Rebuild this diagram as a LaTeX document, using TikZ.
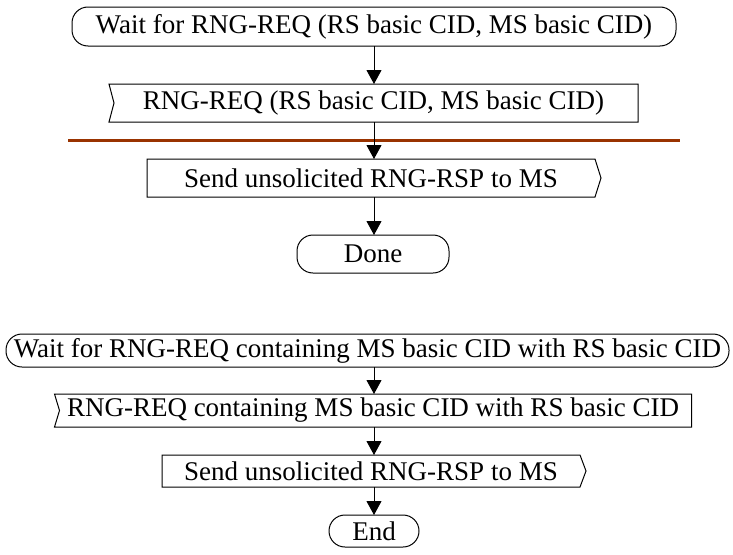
\documentclass[tikz,border=0pt]{standalone}
\usepackage{fontspec}
\setmainfont{Liberation Serif}
\usetikzlibrary{arrows.meta,calc}
\definecolor{sepbrown}{RGB}{153,51,0}
\tikzset{
  base/.style={inner sep=0pt, outer sep=0pt, font=\fontsize{27}{30}\selectfont},
  baseb/.style={inner sep=0pt, outer sep=0pt, font=\fontsize{27}{30}\selectfont},
  outline/.style={draw=black, line width=1pt},
  term/.style={outline, rounded corners=16pt},
  arr/.style={draw=black, line width=0.9pt, -{Triangle[length=14pt,width=15pt]}},
  sep/.style={draw=sepbrown, line width=3pt}
}
\begin{document}
\begin{tikzpicture}[x=1pt,y=-1pt]
\useasboundingbox (0,0) rectangle (733,554);
% ---------- top flow ----------
\node[base, term, minimum width=604pt, minimum height=39pt] (w1) at (374,26.5)
  {Wait for RNG-REQ (RS basic CID, MS basic CID)};
\node[base, minimum width=529pt, minimum height=38pt] (r1) at (373.5,103)
  {RNG-REQ (RS basic CID, MS basic CID)};
\draw[outline] (r1.north west) -- (r1.north east) -- (r1.south east) -- (r1.south west)
  -- ($(r1.west)+(5,0)$) -- cycle;
\node[base, minimum width=448pt, minimum height=38pt] (s1) at (371,178)
  {Send unsolicited RNG-RSP to MS};
\draw[outline] (s1.north west) -- (s1.north east) -- ($(s1.east)+(6,0)$) -- (s1.south east)
  -- (s1.south west) -- cycle;
\node[base, term, minimum width=152pt, minimum height=38pt] (d1) at (373,254) {Done};
\draw[sep] (68,140) -- (680,140);
\draw[arr] (w1.south) -- (w1.south |- r1.north);
\draw[arr] (w1.south |- r1.south) -- (w1.south |- s1.north);
\draw[arr] (w1.south |- s1.south) -- (w1.south |- d1.north);
% ---------- bottom flow ----------
\node[baseb, term, minimum width=723pt, minimum height=33pt] (w2) at (367.5,350.5)
  {Wait for RNG-REQ containing MS basic CID with RS basic CID};
\node[baseb, minimum width=637pt, minimum height=33pt] (r2) at (373,410.5)
  {RNG-REQ containing MS basic CID with RS basic CID};
\draw[outline] (r2.north west) -- (r2.north east) -- (r2.south east) -- (r2.south west)
  -- ($(r2.west)+(5,0)$) -- cycle;
\node[baseb, minimum width=418pt, minimum height=32pt] (s2) at (371,471)
  {Send unsolicited RNG-RSP to MS};
\draw[outline] (s2.north west) -- (s2.north east) -- ($(s2.east)+(6,0)$) -- (s2.south east)
  -- (s2.south west) -- cycle;
\node[baseb, term, minimum width=90pt, minimum height=32pt] (e2) at (374,531) {End};
\coordinate (ax) at (374,0);
\draw[arr] (ax |- w2.south) -- (ax |- r2.north);
\draw[arr] (ax |- r2.south) -- (ax |- s2.north);
\draw[arr] (ax |- s2.south) -- (ax |- e2.north);
\end{tikzpicture}
\end{document}
